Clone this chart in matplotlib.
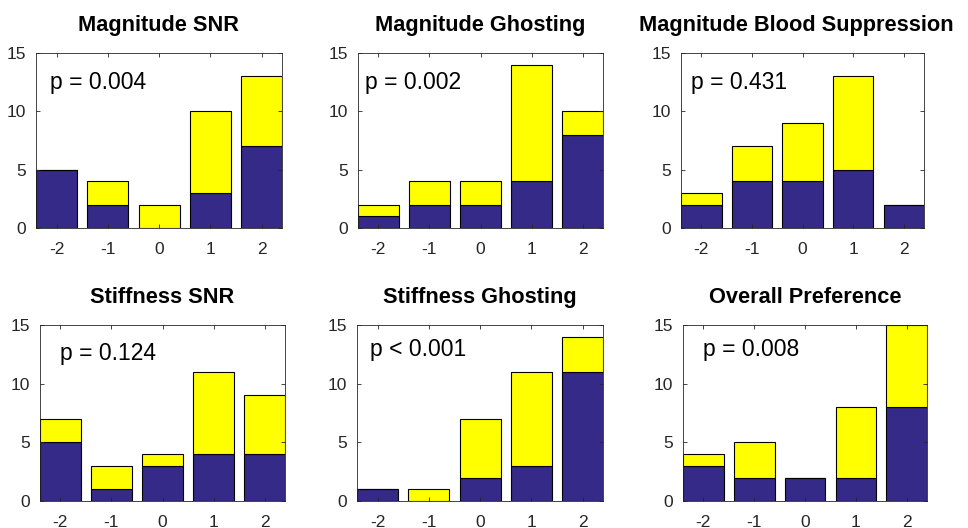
import matplotlib
matplotlib.use("Agg")
import matplotlib.pyplot as plt
import numpy as np

plt.rcParams['font.family'] = ['Liberation Sans', 'DejaVu Sans']

categories = [-2, -1, 0, 1, 2]
titles = ["Magnitude SNR", "Magnitude Ghosting", "Magnitude Blood Suppression",
          "Stiffness SNR", "Stiffness Ghosting", "Overall Preference"]
p_labels = ["p = 0.004", "p = 0.002", "p = 0.431", "p = 0.124", "p < 0.001", "p = 0.008"]

blue_mag_snr = [5, 2, 0, 3, 7]
yellow_mag_snr = [0, 2, 2, 7, 6]
blue_mag_ghost = [1, 2, 2, 4, 8]
yellow_mag_ghost = [1, 2, 2, 10, 2]
blue_mag_blood = [2, 4, 4, 5, 2]
yellow_mag_blood = [1, 3, 5, 8, 0]
blue_stiff_snr = [5, 1, 3, 4, 4]
yellow_stiff_snr = [2, 2, 1, 7, 5]
blue_stiff_ghost = [1, 0, 2, 3, 11]
yellow_stiff_ghost = [0, 1, 5, 8, 3]
blue_overall = [3, 2, 2, 2, 8]
yellow_overall = [1, 3, 0, 6, 7]

blues = [blue_mag_snr, blue_mag_ghost, blue_mag_blood,
         blue_stiff_snr, blue_stiff_ghost, blue_overall]
yellows = [yellow_mag_snr, yellow_mag_ghost, yellow_mag_blood,
           yellow_stiff_snr, yellow_stiff_ghost, yellow_overall]

W, H = 968, 528
fig = plt.figure(figsize=(W / 100, H / 100), dpi=100)

# pixel boxes (left, right, top, bottom)
boxes = [
    (36, 282, 53, 228), (358, 603, 53, 228), (681, 924, 53, 228),
    (40, 285, 325, 501), (357, 603, 325, 501), (683, 927, 325, 501),
]
# p-label placement (pixel offset from axes left, axes-fraction y)
p_pos = [(14, 0.834), (7, 0.834), (10, 0.834), (20, 0.84), (13, 0.86), (20, 0.86)]
# title centre (axes fraction)
title_x = [0.5, 0.5, 0.473, 0.5, 0.5, 0.5]

BLUE = '#352a87'
YELLOW = '#ffff00'

for i, (l, r, t, b) in enumerate(boxes):
    ax = fig.add_axes([l / W, 1 - b / H, (r - l) / W, (b - t) / H])
    x = np.array(categories)
    ax.bar(x, blues[i], width=0.8, color=BLUE, edgecolor='black', linewidth=0.8)
    ax.bar(x, yellows[i], width=0.8, bottom=blues[i], color=YELLOW,
           edgecolor='black', linewidth=0.8)
    ax.set_xlim(-2.4, 2.4)
    ax.set_ylim(0, 15)
    ax.set_xticks(categories)
    ax.set_xticklabels([str(c) for c in categories])
    ax.set_yticks([0, 5, 10, 15])
    ax.tick_params(direction='in', length=3, width=0.6, top=True, right=True,
                   labelsize=12.5, labelcolor='#262626', color='#262626')
    ax.tick_params(axis='x', pad=10)
    ax.tick_params(axis='y', pad=7)
    for s in ax.spines.values():
        s.set_linewidth(0.6)
        s.set_color('#262626')
    ax.set_title(titles[i], fontsize=15.7, fontweight='bold', pad=16, x=title_x[i])
    dx, fy = p_pos[i]
    ax.text(dx / (r - l), fy, p_labels[i], transform=ax.transAxes, fontsize=16.5,
            va='center', ha='left', color='black')

fig.savefig("out.png", dpi=100)
